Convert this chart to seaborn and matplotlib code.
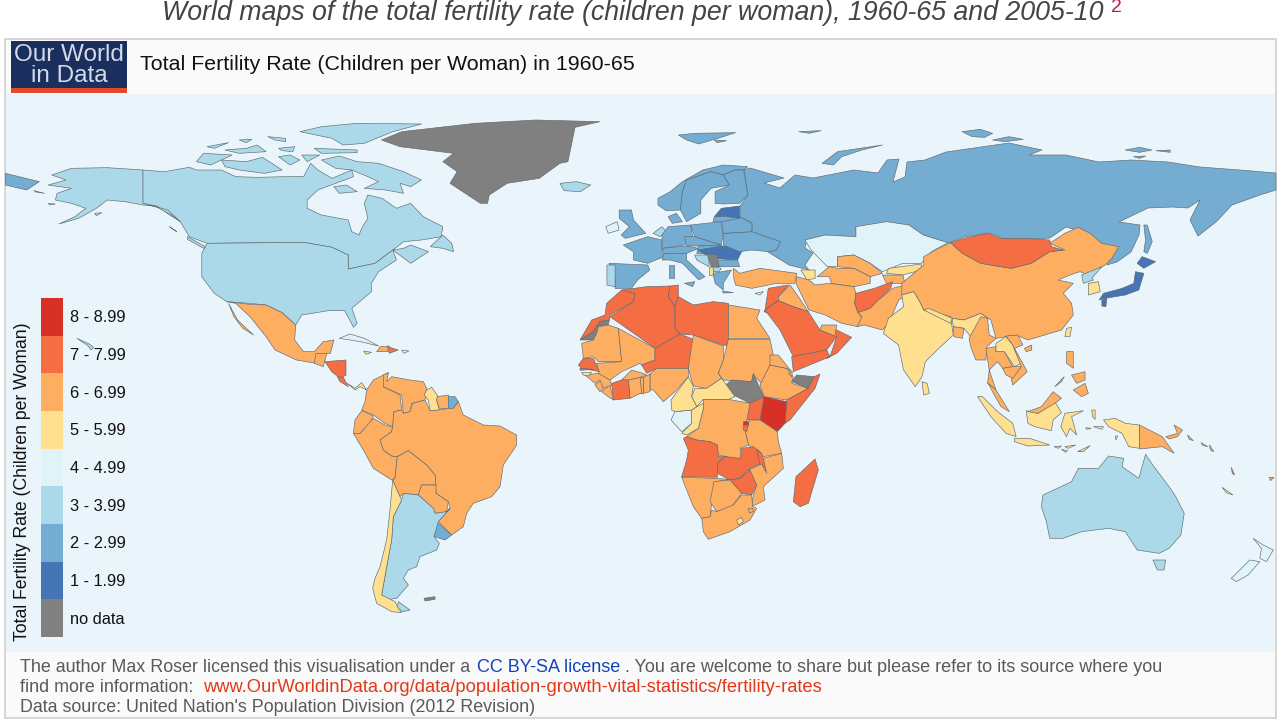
import numpy as np
import pandas as pd
import seaborn as sns
import matplotlib
matplotlib.use("Agg")
import matplotlib.pyplot as plt
from matplotlib.colors import ListedColormap, BoundaryNorm
from matplotlib.patches import Rectangle

# colour classes of the legend, top to bottom
class_labels = ["8 - 8.99", "7 - 7.99", "6 - 6.99", "5 - 5.99", "4 - 4.99",
                "3 - 3.99", "2 - 2.99", "1 - 1.99", "no data"]
class_values = [8.5, 7.5, 6.5, 5.5, 4.5, 3.5, 2.5, 1.5, np.nan]
class_colors = ["#d73027", "#f46d43", "#fdae61", "#fee090", "#e0f3f8",
                "#abd9e9", "#74add1", "#4575b4"]
no_data_color = "#808080"

# fertility per country (middle of the class)
rate_8 = ["Kenya", "Rwanda"]
rate_7 = ["Morocco", "Algeria", "Tunisia", "Libya", "Niger", "Senegal", "Ivory Coast", "Angola",
          "Zambia", "Malawi", "Zimbabwe", "Uganda", "Somalia", "Burundi", "Madagascar", "Syria",
          "Saudi Arabia", "Yemen", "Oman", "Afghanistan", "Mongolia", "Honduras", "Costa Rica",
          "Dominican Rep", "Jordan", "Vanuatu", "Gambia"]
rate_6 = ["Mauritania", "Mali", "Chad", "Sudan", "Egypt", "Ethiopia", "Eritrea", "Djibouti",
          "Tanzania", "DR Congo", "Nigeria", "Benin", "Togo", "Ghana", "Burkina Faso", "Liberia",
          "Sierra Leone", "Guinea", "Mozambique", "Namibia", "Botswana", "South Africa", "Swaziland",
          "Mexico", "Guatemala", "Colombia", "Venezuela", "Suriname", "Ecuador", "Peru", "Brazil", "Bolivia",
          "Paraguay", "Haiti", "Turkey", "Iran", "Iraq", "UAE", "Pakistan", "Uzbekistan",
          "Turkmenistan", "Tajikistan", "China", "Bangladesh", "Myanmar", "Thailand", "Vietnam",
          "Cambodia", "Malaysia", "Philippines", "Papua New Guinea", "Solomon Islands", "Fiji"]
rate_5 = ["Cameroon", "Central African Rep", "Congo", "Guinea-Bissau", "Lesotho", "India", "Nepal",
          "Laos", "Indonesia", "Sri Lanka", "Azerbaijan", "Kyrgyzstan", "Chile", "Guyana", "Panama",
          "South Korea", "Taiwan", "Jamaica", "Albania", "New Caledonia"]
rate_4 = ["Kazakhstan", "Gabon", "Ireland", "New Zealand", "Cuba", "Puerto Rico", "Cyprus"]
rate_3 = ["USA", "Canada", "Australia", "Argentina", "Iceland", "Portugal", "North Korea",
          "Netherlands", "Macedonia", "Bosnia"]
rate_2 = ["Russia", "Norway", "Sweden", "Finland", "Denmark", "UK", "France", "Germany", "Poland",
          "Czechoslovakia", "Austria", "Hungary", "Bulgaria", "Italy", "Greece", "Spain", "Ukraine",
          "Belarus", "Lithuania", "Uruguay", "French Guiana"]
rate_1 = ["Romania", "Japan", "Latvia"]
rate_none = ["Greenland", "Western Sahara", "South Sudan", "Somaliland", "Serbia", "Falklands"]

# outlines are geography, not data: traced by hand per map region
# frame = left, top, x scale, y scale of the grid a region was traced on
NA = (0, 120, 2.8, 3)
SA = (320, 340, 3, 3)
AF = (560, 260, 3, 3)
EU = (560, 120, 2.45, 3)
AS = (880, 220, 2.975, 3)

outlines_america = [
    ("Canada", NA, [(400,150),(460,155),(530,142),(550,150),(620,150),(660,170),(720,172),(800,170),(850,170),(870,130),(890,150),(930,175),(985,150),(990,170),(940,190),(890,210),(860,240),(860,265),(900,285),(975,300),(985,335),(1005,345),(1015,320),(1030,295),(1020,250),(1030,225),(1070,235),(1110,265),(1150,250),(1185,290),(1240,320),(1235,350),(1180,360),(1130,365),(1100,390),(1130,385),(1150,375),(1200,395),(1150,430),(1125,410),(1100,390),(1050,430),(975,447),(975,405),(930,382),(850,367),(580,370),(530,350),(505,305),(475,285),(440,258),(400,250)]),
    ("USA:Alaska", NA, [(145,165),(200,145),(300,143),(400,150),(400,250),(440,262),(480,285),(505,305),(470,270),(430,258),(400,255),(350,245),(300,240),(270,265),(220,295),(165,312),(210,290),(240,265),(200,250),(155,240),(160,220),(200,205),(135,195),(185,180)]),
    ("USA", NA, [(580,370),(850,367),(930,382),(975,405),(975,447),(1050,430),(1100,390),(1110,420),(1060,455),(1040,490),(1040,515),(985,565),(1000,610),(990,622),(965,572),(920,572),(845,585),(828,615),(790,578),(745,555),(700,550),(635,545),(600,520),(565,470),(565,400)]),
    ("USA:Hawaii", NA, [(215,655),(250,672),(262,682),(255,690),(245,676)]),
    ("USA:Aleutians", NA, [(95,212),(125,220),(100,216)]),
    ("USA:Nunivak", NA, [(135,250),(155,252),(140,255)]),
    ("USA:Kodiak", NA, [(265,280),(285,278),(270,287)]),
    ("Canada:Baffin", NA, [(900,120),(950,108),(1000,125),(1060,130),(1130,155),(1180,180),(1150,200),(1120,190),(1130,220),(1080,210),(1020,205),(1060,185),(1030,170),(985,150),(940,145)]),
    ("Canada:Victoria", NA, [(620,120),(690,125),(735,112),(790,150),(740,160),(670,150),(630,140)]),
    ("Canada:Banks", NA, [(550,125),(570,100),(650,105),(590,135)]),
    ("Canada:Ellesmere", NA, [(840,35),(900,20),(1000,10),(1180,12),(1100,35),(1020,70),(960,75),(930,55)]),
    ("Canada:Devon", NA, [(880,85),(1000,90),(1000,98),(900,100)]),
    ("Canada:Somerset", NA, [(780,110),(812,105),(840,120),(812,135)]),
    ("Canada:Melville", NA, [(630,90),(690,85),(720,75),(745,95),(670,100)]),
    ("Canada:Prince Patrick", NA, [(580,80),(640,68),(600,85)]),
    ("Canada:Axel", NA, [(750,50),(800,55),(800,65),(770,60)]),
    ("Canada:Bathurst", NA, [(780,85),(825,80),(820,95),(790,92)]),
    ("Canada:Ellef", NA, [(670,60),(705,58),(690,68)]),
    ("Canada:Prince of Wales", NA, [(845,105),(895,105),(860,125)]),
    ("Canada:Southampton", NA, [(935,200),(970,195),(1000,215),(950,220)]),
    ("Canada:Newfoundland", NA, [(1205,380),(1240,345),(1265,370),(1270,395),(1240,385)]),
    ("Canada:Vancouver", NA, [(525,350),(575,380),(570,385),(525,358)]),
    ("Canada:Haida", NA, [(475,320),(495,335),(480,325)]),
    ("Russia:Chukotka", NA, [(15,160),(110,185),(75,210),(15,195)]),
    ("Greenland", NA, [(1068,60),(1125,35),(1330,10),(1500,0),(1680,5),(1610,22),(1600,75),(1590,125),(1568,130),(1510,175),(1420,190),(1370,225),(1365,250),(1345,250),(1260,190),(1280,155),(1240,125),(1270,100),(1120,80)]),
    ("Mexico", NA, [(635,545),(700,553),(745,555),(790,578),(828,615),(825,660),(850,695),(880,695),(905,665),(935,660),(925,700),(905,700),(910,725),(885,730),(830,720),(770,690),(745,650),(700,590),(660,550)]),
    ("Mexico:Baja", NA, [(640,550),(665,600),(710,645),(680,625),(655,590)]),
    ("Guatemala", NA, [(885,700),(915,700),(905,740),(880,730)]),
    ("Cuba", NA, [(950,655),(980,642),(1020,655),(1060,678),(1010,665)]),
    ("Haiti", NA, [(1065,680),(1090,678),(1085,695),(1055,695)]),
    ("Dominican Rep", NA, [(1085,680),(1115,690),(1090,700)]),
    ("Jamaica", NA, [(1018,693),(1040,697),(1025,703)]),
    ("Puerto Rico", NA, [(1125,690),(1145,693),(1130,700)]),
    ("Honduras", SA, [(15,65),(78,60),(78,105),(60,115),(35,95)]),
    ("Costa Rica", SA, [(52,110),(70,112),(85,140),(60,125)]),
    ("Panama", SA, [(82,130),(105,145),(125,128),(140,150),(120,140),(105,150)]),
    ("Colombia", SA, [(140,150),(160,120),(190,105),(205,98),(190,140),(240,165),(245,210),(222,215),(218,260),(195,250),(160,225),(125,210),(135,185)]),
    ("Venezuela", SA, [(190,105),(205,98),(200,125),(215,110),(270,120),(310,125),(320,145),(315,180),(275,190),(270,215),(250,220),(245,165),(190,140)]),
    ("Guyana", SA, [(320,150),(335,142),(355,170),(350,180),(358,210),(330,212),(325,180),(312,165)]),
    ("Suriname", SA, [(352,170),(385,165),(385,205),(358,205),(350,180)]),
    ("French Guiana", SA, [(385,170),(405,170),(415,185),(400,205),(385,205)]),
    ("Ecuador", SA, [(125,212),(160,228),(150,250),(120,280),(100,280),(105,240)]),
    ("Peru", SA, [(100,280),(120,280),(160,235),(195,255),(218,262),(215,275),(180,300),(190,330),(215,348),(232,350),(225,415),(215,420),(160,385),(130,330)]),
    ("Brazil", SA, [(218,260),(222,215),(245,210),(250,220),(270,215),(278,190),(315,180),(330,212),(358,210),(385,205),(400,205),(415,185),(430,225),(450,235),(490,255),(540,258),(590,285),(590,315),(550,375),(540,440),(515,470),(460,490),(440,520),(430,560),(395,585),(355,545),(390,505),(385,485),(348,460),(345,405),(320,375),(265,332),(232,350),(215,348),(190,330),(180,300),(215,275)]),
    ("Bolivia", SA, [(232,350),(265,332),(320,375),(345,405),(348,435),(305,435),(295,465),(250,460),(240,470),(218,420),(225,415)]),
    ("Paraguay", SA, [(305,435),(348,435),(348,460),(385,485),(380,515),(345,520),(340,505),(295,465)]),
    ("Uruguay", SA, [(352,547),(395,585),(375,600),(342,590)]),
    ("Argentina", SA, [(250,460),(295,465),(340,505),(345,520),(380,515),(390,505),(355,545),(342,590),(358,610),(350,630),(300,650),(290,680),(265,690),(250,715),(265,735),(230,775),(195,780),(185,765),(200,680),(215,600),(220,530),(245,480)]),
    ("Argentina:Fuego", SA, [(235,785),(270,810),(250,815),(232,805)]),
    ("Chile", SA, [(218,420),(240,470),(245,480),(220,530),(215,600),(200,680),(185,765),(225,785),(235,805),(245,818),(215,815),(170,790),(158,745),(165,715),(180,680),(200,600),(210,510)]),
    ("Falklands", SA, [(312,775),(345,770),(345,778),(315,783)]),
]

outlines_africa = [
    ("Morocco", AF, [(135,165),(140,130),(185,90),(225,100),(220,125),(150,165),(148,180),(120,185),(100,215),(60,240),(95,180)]),
    ("Western Sahara", AF, [(62,240),(100,215),(120,185),(148,180),(145,195),(115,200),(110,220),(100,240)]),
    ("Algeria", AF, [(185,90),(260,80),(330,78),(325,110),(345,140),(345,205),(360,222),(285,265),(150,170),(220,125),(225,100)]),
    ("Tunisia", AF, [(330,78),(355,75),(355,110),(345,140),(325,110)]),
    ("Libya", AF, [(345,140),(355,110),(400,135),(460,125),(505,130),(505,258),(490,255),(400,225),(360,222),(345,205)]),
    ("Egypt", AF, [(505,135),(600,150),(590,175),(630,235),(505,235)]),
    ("Mauritania", AF, [(65,250),(100,240),(110,220),(115,200),(145,195),(175,205),(185,305),(115,305),(100,290),(70,295)]),
    ("Mali", AF, [(175,205),(285,265),(285,300),(245,315),(240,310),(185,335),(150,360),(118,345),(110,310),(185,305)]),
    ("Niger", AF, [(285,265),(360,222),(405,240),(385,325),(290,325),(260,340),(245,315),(285,300)]),
    ("Chad", AF, [(400,225),(490,258),(490,300),(475,340),(485,355),(440,385),(400,378),(385,325)]),
    ("Sudan", AF, [(505,238),(630,238),(640,285),(680,325),(630,315),(605,370),(580,345),(575,365),(490,360),(475,340),(490,300)]),
    ("South Sudan", AF, [(497,375),(515,360),(575,365),(580,340),(600,385),(612,410),(570,430),(520,405)]),
    ("Ethiopia", AF, [(630,315),(680,325),(700,350),(695,370),(745,385),(680,420),(612,410),(600,375)]),
    ("Eritrea", AF, [(630,285),(655,285),(695,335),(680,325),(630,315)]),
    ("Djibouti", AF, [(685,340),(697,335),(695,350)]),
    ("Somaliland", AF, [(695,365),(710,345),(762,350),(745,385)]),
    ("Somalia", AF, [(762,350),(780,342),(765,385),(690,480),(675,490),(680,420),(745,385)]),
    ("Kenya", AF, [(612,410),(680,425),(675,490),(652,515),(600,480)]),
    ("Uganda", AF, [(570,430),(612,410),(600,480),(555,480)]),
    ("Tanzania", AF, [(570,480),(600,480),(652,515),(655,545),(665,580),(610,590),(565,555),(555,510)]),
    ("DR Congo", AF, [(430,418),(505,418),(570,430),(555,510),(565,555),(540,565),(550,600),(500,590),(475,585),(472,555),(450,545),(410,540),(380,530),(415,505),(430,445)]),
    ("Rwanda", AF, [(550,482),(565,482),(565,495),(550,495)]),
    ("Burundi", AF, [(552,495),(565,495),(560,515),(550,510)]),
    ("Congo", AF, [(365,520),(395,490),(395,450),(410,440),(430,430),(430,445),(415,505),(380,525)]),
    ("Gabon", AF, [(333,480),(345,455),(395,450),(395,490),(365,515)]),
    ("Central African Rep", AF, [(395,410),(405,385),(440,385),(485,355),(525,410),(505,418),(430,418),(410,440)]),
    ("Cameroon", AF, [(333,420),(385,350),(400,378),(395,410),(410,440),(395,450),(345,455),(335,450)]),
    ("Nigeria", AF, [(270,390),(270,342),(290,325),(385,325),(385,350),(345,395),(310,425),(280,390)]),
    ("Benin", AF, [(250,352),(270,342),(270,395),(250,400)]),
    ("Togo", AF, [(240,352),(250,352),(250,402),(240,400)]),
    ("Ghana", AF, [(205,360),(240,352),(245,398),(210,415)]),
    ("Burkina Faso", AF, [(185,360),(215,330),(250,340),(260,345),(240,352),(205,360)]),
    ("Ivory Coast", AF, [(155,370),(185,360),(205,360),(210,415),(160,420)]),
    ("Liberia", AF, [(125,395),(150,375),(160,420),(145,410)]),
    ("Sierra Leone", AF, [(105,375),(125,360),(130,385),(120,395)]),
    ("Guinea", AF, [(75,345),(115,340),(150,360),(155,375),(130,385),(120,360),(105,370)]),
    ("Guinea-Bissau", AF, [(65,338),(95,338),(85,348),(70,345)]),
    ("Senegal", AF, [(55,315),(70,295),(100,295),(118,335),(65,325)]),
    ("Gambia", AF, [(60,325),(100,328),(60,331)]),
    ("Angola", AF, [(370,535),(380,530),(410,540),(450,545),(472,555),(475,590),(495,590),(472,610),(472,652),(365,650),(380,600),(385,570)]),
    ("Zambia", AF, [(472,610),(495,590),(540,595),(545,565),(580,560),(600,575),(605,610),(570,625),(540,655),(510,660),(472,640)]),
    ("Malawi", AF, [(590,570),(605,580),(620,625),(610,645),(600,615)]),
    ("Mozambique", AF, [(610,595),(665,580),(670,625),(610,680),(615,720),(575,740),(580,705),(590,675),(565,630),(605,612),(620,640)]),
    ("Zimbabwe", AF, [(510,660),(540,655),(570,630),(590,675),(575,705),(545,700)]),
    ("Namibia", AF, [(365,652),(462,655),(510,658),(470,665),(462,672),(450,770),(425,775),(400,740)]),
    ("Botswana", AF, [(462,665),(510,660),(545,700),(515,740),(470,755),(450,725)]),
    ("South Africa", AF, [(425,775),(450,770),(455,750),(470,755),(520,735),(545,705),(575,705),(578,740),(590,745),(570,780),(510,815),(445,838),(430,815)]),
    ("Lesotho", AF, [(530,780),(545,772),(550,785),(535,795)]),
    ("Swaziland", AF, [(565,745),(578,745),(580,755),(568,758)]),
    ("Madagascar", AF, [(765,597),(775,630),(745,730),(720,740),(700,725),(708,650)]),
    ("Syria", AF, [(625,85),(685,75),(655,110),(655,122),(615,150)]),
    ("Jordan", AF, [(615,150),(655,122),(625,160),(612,155)]),
    ("Iraq", AF, [(655,110),(690,75),(715,110),(745,155),(700,140),(655,122)]),
    ("Saudi Arabia", AF, [(615,150),(655,122),(700,140),(745,155),(780,210),(830,230),(800,270),(700,290),(660,210)]),
    ("Yemen", AF, [(695,290),(800,270),(810,290),(700,335)]),
    ("Oman", AF, [(810,290),(830,230),(820,205),(875,232),(830,280),(800,295)]),
    ("UAE", AF, [(785,195),(830,195),(825,228),(780,210)]),
]

outlines_europe = [
    ("Russia", (0, 0, 1, 1), [(750,168),(784,178),(764,183),(780,188),(795,175),(813,178),(854,170),(878,173),(887,160),(899,159),(893,182),(905,177),(907,162),(925,160),(946,152),(1009,143),(1042,150),(1029,155),(1066,155),(1099,162),(1131,160),(1168,162),(1200,167),(1240,170),(1276,173),(1276,190),(1260,195),(1232,205),(1216,222),(1198,236),(1190,220),(1200,200),(1188,208),(1172,207),(1148,208),(1119,222),(1140,225),(1139,235),(1131,252),(1117,262),(1107,265),(1115,247),(1099,243),(1086,233),(1066,227),(1050,238),(1009,240),(989,233),(964,237),(948,243),(923,235),(909,225),(887,222),(856,227),(856,237),(825,235),(807,240),(805,248),(813,253),(805,265),(809,270),(789,265),(768,252),(776,250),(780,242),(752,232),(752,223),(740,217),(740,206),(748,195),(744,170)]),
    ("Russia:Sakhalin", AS, [(785,15),(795,15),(810,65),(795,100),(785,95),(790,60)]),
    ("Russia:Novaya Zemlya", EU, [(642,130),(680,95),(790,75),(740,90),(690,110),(670,135)]),
    ("Russia:Severnaya", EU, [(985,35),(1030,28),(1060,40),(1040,52),(1010,50)]),
    ("Russia:Bolshevik", EU, [(1060,60),(1100,50),(1135,58),(1090,65)]),
    ("Russia:New Siberian", EU, [(1385,90),(1420,82),(1450,90),(1420,97)]),
    ("Russia:Lyakhov", EU, [(1460,92),(1495,90),(1495,97)]),
    ("Russia:Kotelny", EU, [(1405,110),(1435,108),(1420,115)]),
    ("Russia:Franz Josef", EU, [(585,35),(640,32),(610,40)]),
    ("Norway:Svalbard", EU, [(290,45),(330,40),(430,38),(400,50),(340,72),(310,60)]),
    ("Norway:Nordaust", EU, [(378,60),(408,62),(385,68)]),
    ("Norway", EU, [(240,235),(270,215),(300,185),(350,150),(400,135),(460,140),(450,150),(430,150),(400,165),(370,155),(310,180),(300,215),(295,270),(260,272),(240,255)]),
    ("Sweden", EU, [(300,215),(310,180),(370,155),(400,165),(415,195),(370,205),(345,240),(345,280),(310,305),(295,270)]),
    ("Finland", EU, [(380,250),(380,215),(415,195),(400,165),(430,150),(450,150),(460,225),(440,250),(400,252)]),
    ("Denmark", EU, [(265,290),(285,280),(300,305),(275,310)]),
    ("UK", EU, [(145,270),(175,270),(180,300),(210,340),(160,355),(150,345),(170,320),(145,295)]),
    ("Ireland", EU, [(112,320),(140,305),(145,330),(118,340)]),
    ("Iceland", EU, [(0,190),(40,185),(75,195),(50,215),(10,212)]),
    ("Netherlands", EU, [(228,340),(250,320),(260,335),(245,350)]),
    ("France", EU, [(155,375),(215,350),(250,360),(250,395),(255,410),(215,430),(180,420),(180,395)]),
    ("Germany", EU, [(250,345),(265,320),(320,315),(325,350),(305,375),(250,385)]),
    ("Poland", EU, [(320,315),(395,305),(400,340),(395,375),(330,350)]),
    ("Czechoslovakia", EU, [(305,350),(330,350),(395,375),(340,378),(310,378)]),
    ("Austria", EU, [(250,385),(310,378),(340,385),(310,400),(255,400)]),
    ("Hungary", EU, [(340,378),(395,375),(365,400),(335,400)]),
    ("Romania", EU, [(338,390),(395,378),(430,380),(445,395),(435,420),(370,415)]),
    ("Bulgaria", EU, [(375,420),(435,420),(440,440),(385,440)]),
    ("Ukraine", EU, [(400,340),(470,335),(540,365),(530,390),(510,395),(470,390),(440,395),(400,375)]),
    ("Belarus", EU, [(400,340),(395,300),(440,290),(470,310),(470,335)]),
    ("Latvia", EU, [(378,290),(395,265),(440,258),(440,295),(410,290)]),
    ("Lithuania", EU, [(378,290),(410,290),(440,295),(395,305),(375,305)]),
    ("Italy", EU, [(255,400),(310,400),(310,420),(355,470),(340,480),(300,430),(270,420),(250,420)]),
    ("Italy:Sicily", EU, [(305,490),(330,485),(325,500)]),
    ("Italy:Sardinia", EU, [(268,435),(280,435),(280,475),(268,475)]),
    ("Bosnia", EU, [(330,405),(365,405),(365,440),(335,420)]),
    ("Serbia", EU, [(360,400),(385,405),(390,440),(370,440)]),
    ("Albania", EU, [(365,440),(375,440),(375,465),(365,465)]),
    ("Macedonia", EU, [(375,440),(395,445),(390,455),(377,455)]),
    ("Greece", EU, [(375,460),(420,450),(400,490),(400,510),(380,490)]),
    ("Greece:Crete", EU, [(398,513),(425,518),(400,519)]),
    ("Spain", EU, [(120,430),(215,435),(220,450),(190,480),(175,505),(135,505),(135,470)]),
    ("Portugal", EU, [(115,435),(135,435),(135,500),(115,495)]),
    ("Turkey", EU, [(425,445),(440,460),(490,445),(580,460),(575,490),(530,490),(470,505),(430,495),(425,470)]),
    ("Cyprus", EU, [(478,520),(498,515),(490,525)]),
    ("Azerbaijan", EU, [(590,450),(625,450),(625,475),(605,480)]),
    ("Kazakhstan", EU, [(600,360),(650,345),(725,350),(725,320),(800,305),(855,315),(890,345),(950,368),(910,395),(885,430),(840,430),(790,455),(760,430),(720,405),(680,410),(680,440),(655,440),(615,390)]),
    ("Uzbekistan", EU, [(680,410),(720,405),(760,430),(790,460),(760,470),(720,445),(680,440)]),
    ("Turkmenistan", EU, [(630,470),(660,440),(680,445),(720,445),(760,470),(760,490),(720,500),(665,490),(660,470)]),
    ("Kyrgyzstan", EU, [(805,445),(885,432),(885,450),(840,465),(800,460)]),
    ("Tajikistan", EU, [(790,465),(840,465),(845,490),(800,490)]),
    ("Iran", EU, [(580,470),(610,480),(625,495),(660,490),(720,500),(725,520),(722,550),(730,578),(740,595),(730,620),(690,610),(650,585),(610,570),(590,520),(578,490)]),
    ("Afghanistan", EU, [(725,520),(770,505),(815,485),(810,505),(780,540),(760,565),(730,578),(722,550)]),
    ("Pakistan", EU, [(730,578),(760,565),(780,540),(815,505),(845,495),(865,515),(830,540),(805,610),(790,630),(745,615),(728,620),(740,590)]),
]

outlines_asia = [
    ("China", AS, [(65,190),(130,135),(130,110),(165,90),(210,68),(245,100),(300,130),(390,145),(450,130),(505,95),(550,90),(505,70),(550,40),(590,22),(625,40),(660,70),(710,80),(690,115),(670,135),(620,165),(595,155),(565,165),(530,180),(575,190),(545,220),(570,250),(575,285),(540,330),(440,360),(405,345),(345,355),(330,300),(300,280),(250,300),(215,295),(130,270),(118,245),(100,215),(65,225)]),
    ("Mongolia", AS, [(210,68),(250,55),(320,40),(360,55),(430,55),(505,60),(510,80),(545,90),(505,95),(450,130),(390,145),(300,130),(245,100)]),
    ("India", AS, [(65,225),(100,215),(118,245),(130,270),(210,290),(218,345),(175,385),(135,425),(125,470),(105,500),(70,450),(55,375),(10,340),(25,295),(70,260)]),
    ("India:East", AS, [(250,300),(300,280),(320,295),(270,350),(250,325),(218,320),(215,295)]),
    ("Nepal", AS, [(130,270),(145,265),(215,295),(210,310)]),
    ("Bangladesh", AS, [(218,320),(250,325),(245,355),(220,350)]),
    ("Sri Lanka", AS, [(125,485),(140,490),(147,520),(130,525)]),
    ("North Korea", AS, [(600,165),(660,140),(630,175),(635,180),(605,190)]),
    ("South Korea", AS, [(620,190),(650,185),(655,215),(620,225)]),
    ("Japan:Hokkaido", AS, [(780,110),(820,125),(785,145),(765,130)]),
    ("Japan", AS, [(760,155),(785,160),(770,210),(730,225),(670,235),(652,240),(665,220),(720,205),(755,190)]),
    ("Japan:Kyushu", AS, [(660,240),(675,235),(672,260),(660,258)]),
    ("Taiwan", AS, [(555,325),(570,322),(565,350),(550,350)]),
    ("China:Hainan", AS, [(430,385),(450,375),(452,390),(435,395)]),
    ("Myanmar", AS, [(265,355),(300,290),(320,295),(325,345),(345,355),(318,380),(315,420),(285,420),(270,380)]),
    ("Thailand", AS, [(315,385),(345,380),(345,395),(370,395),(395,440),(365,445),(350,425),(325,450),(345,510),(320,490),(325,450)]),
    ("Laos", AS, [(345,370),(375,350),(395,375),(420,430),(400,440),(370,395),(345,395)]),
    ("Vietnam", AS, [(375,348),(410,345),(425,375),(400,385),(438,455),(395,495),(390,475),(420,440),(395,375)]),
    ("Cambodia", AS, [(365,445),(395,440),(420,440),(395,475),(375,465)]),
    ("Malaysia", AS, [(322,490),(345,510),(385,575),(360,560),(340,525)]),
    ("Indonesia:Sumatra", AS, [(290,530),(305,530),(350,575),(395,610),(405,650),(375,640),(330,590)]),
    ("Indonesia:Java", AS, [(400,655),(445,655),(505,675),(440,678),(400,665)]),
    ("Indonesia:Kalimantan", AS, [(435,572),(470,580),(520,545),(540,578),(515,600),(510,632),(460,620),(440,610)]),
    ("Malaysia:Borneo", AS, [(440,575),(480,560),(515,515),(540,535),(520,550),(470,580)]),
    ("Indonesia:Sulawesi", AS, [(550,580),(605,572),(570,590),(585,645),(565,625),(555,650),(538,620)]),
    ("Indonesia:Papua", AS, [(665,600),(700,595),(730,610),(772,615),(772,685),(740,680),(720,640),(680,620)]),
    ("Indonesia:Timor", AS, [(588,695),(625,677),(605,695)]),
    ("Indonesia:Bali", AS, [(518,680),(540,678),(530,685)]),
    ("Indonesia:Flores", AS, [(550,680),(582,675),(560,685)]),
    ("Indonesia:Sumba", AS, [(540,688),(558,692),(552,697)]),
    ("Indonesia:Halmahera", AS, [(630,570),(640,570),(640,598),(632,590)]),
    ("Indonesia:Seram", AS, [(635,620),(665,620),(660,628)]),
    ("Indonesia:Buru", AS, [(612,623),(628,625),(615,628)]),
    ("Indonesia:Aru", AS, [(700,648),(707,648),(702,660)]),
    ("Philippines:Luzon", AS, [(555,395),(575,395),(575,445),(555,430)]),
    ("Philippines:Mindanao", AS, [(575,510),(610,490),(620,520),(600,530)]),
    ("Philippines:Visayas", AS, [(570,465),(610,455),(610,480),(585,490)]),
    ("Philippines:Palawan", AS, [(520,500),(548,470),(540,485)]),
    ("Papua New Guinea", AS, [(772,615),(840,650),(875,700),(840,680),(772,687)]),
    ("Papua New Guinea:Britain", AS, [(850,650),(885,640),(875,615),(900,630),(885,650),(860,657)]),
    ("Solomon Islands", AS, [(915,645),(932,662),(920,658)]),
    ("Solomon Islands:Choiseul", AS, [(955,668),(975,680),(960,676)]),
    ("Solomon Islands:Malaita", AS, [(980,675),(993,695),(983,690)]),
    ("Vanuatu", AS, [(1045,742),(1055,765),(1048,760)]),
    ("New Caledonia", AS, [(1018,802),(1050,825),(1030,818)]),
    ("Fiji", AS, [(1158,772),(1172,772),(1162,782)]),
    ("Australia", AS, [(485,825),(570,785),(590,745),(650,745),(680,708),(725,715),(720,740),(770,775),(790,703),(815,740),(860,800),(880,830),(905,880),(895,945),(860,985),(830,1000),(765,990),(730,935),(680,925),(600,935),(545,955),(505,955),(495,905),(480,860)]),
    ("Australia:Tasmania", AS, [(812,1020),(850,1020),(845,1050),(825,1050)]),
    ("New Zealand:South", AS, [(1045,1075),(1100,1020),(1130,1025),(1095,1065),(1060,1085)]),
    ("New Zealand:North", AS, [(1110,955),(1140,975),(1170,990),(1150,1025),(1130,1015),(1135,985)]),
]

# table country -> fertility
rows = []
for names, value in [(rate_8, 8.5), (rate_7, 7.5), (rate_6, 6.5), (rate_5, 5.5), (rate_4, 4.5),
                     (rate_3, 3.5), (rate_2, 2.5), (rate_1, 1.5), (rate_none, np.nan)]:
    rows += [(name, value) for name in names]
fertility = pd.DataFrame(rows, columns=["country", "rate"]).set_index("country")["rate"]

sns.set_theme(style="white")
plt.rcParams["font.family"] = ["Liberation Sans", "DejaVu Sans"]

# same binned scale for map and legend, bins ascending from 1
palette = sns.color_palette(class_colors[::-1])
scale = ListedColormap(palette)
scale.set_bad(no_data_color)
norm = BoundaryNorm(np.arange(1, 10), scale.N)

fig = plt.figure(figsize=(12.8, 7.23), dpi=100, facecolor="white")
ax = fig.add_axes([0, 0, 1, 1])
ax.set_xlim(0, 1280)
ax.set_ylim(723, 0)
ax.axis("off")

# page furniture
ax.add_patch(Rectangle((5, 39), 1271, 679, fc="#fafafa", ec="#cfcfcf", lw=1.2))
ax.add_patch(Rectangle((6, 94), 1269, 558, fc="#e9f4fb", ec="none"))
ax.add_patch(Rectangle((11, 41), 116, 52, fc="#1b2f5f", ec="none"))
ax.add_patch(Rectangle((11, 88), 116, 5, fc="#e5492b", ec="none"))

# countries
for group in [outlines_america, outlines_africa, outlines_europe, outlines_asia]:
    for name, (left, top, sx, sy), points in group:
        pts = np.array(points, dtype=float)
        rate = fertility[name.split(":")[0]]
        color = no_data_color if np.isnan(rate) else scale(norm(rate))
        ax.fill(left + pts[:, 0] / sx, top + pts[:, 1] / sy, facecolor=color,
                edgecolor="#5f6a70", linewidth=0.45, joinstyle="round", clip_on=True)

# legend strip
legend_ax = fig.add_axes([41 / 1280, 1 - 637 / 723, 22 / 1280, 339 / 723])
sns.heatmap(np.array(class_values).reshape(-1, 1), ax=legend_ax, cmap=scale, norm=norm,
            cbar=False, xticklabels=False, yticklabels=False, linewidths=0)
legend_ax.set_facecolor(no_data_color)
for i, label in enumerate(class_labels):
    ax.text(70, 299 + 37.67 * (i + 0.5), label, fontsize=11.8, color="#111111", va="center", ha="left")
ax.text(23, 482, "Total Fertility Rate (Children per Woman)", fontsize=12.7, rotation=90,
        color="#111111", va="center", ha="center")

# titles
ax.text(633, 13, "World maps of the total fertility rate (children per woman), 1960-65 and 2005-10",
        fontsize=19.3, style="italic", color="#444444", va="center", ha="center")
ax.text(1111, 8, "2", fontsize=14, color="#c2185b", va="center", ha="left")
ax.text(140, 65, "Total Fertility Rate (Children per Woman) in 1960-65", fontsize=15.4,
        color="#111111", va="center", ha="left")
ax.text(69, 55, "Our World", fontsize=17.5, color="#d5dbe6", va="center", ha="center")
ax.text(69, 76, "in Data", fontsize=17.5, color="#d5dbe6", va="center", ha="center")

# footer
gray = "#5a5a5a"
ax.text(20, 667, "The author Max Roser licensed this visualisation under a", fontsize=12.9, color=gray, va="center")
ax.text(477, 667, "CC BY-SA license", fontsize=13, color="#1144bb", va="center")
ax.text(625, 667, ". You are welcome to share but please refer to its source where you", fontsize=12.95, color=gray, va="center")
ax.text(20, 687, "find more information:", fontsize=12.9, color=gray, va="center")
ax.text(203, 687, "www.OurWorldinData.org/data/population-growth-vital-statistics/fertility-rates", fontsize=13.2, color="#e03a1a", va="center")
ax.text(20, 707, "Data source: United Nation's Population Division (2012 Revision)", fontsize=12.9, color=gray, va="center")

fig.savefig("out.png", dpi=100)
